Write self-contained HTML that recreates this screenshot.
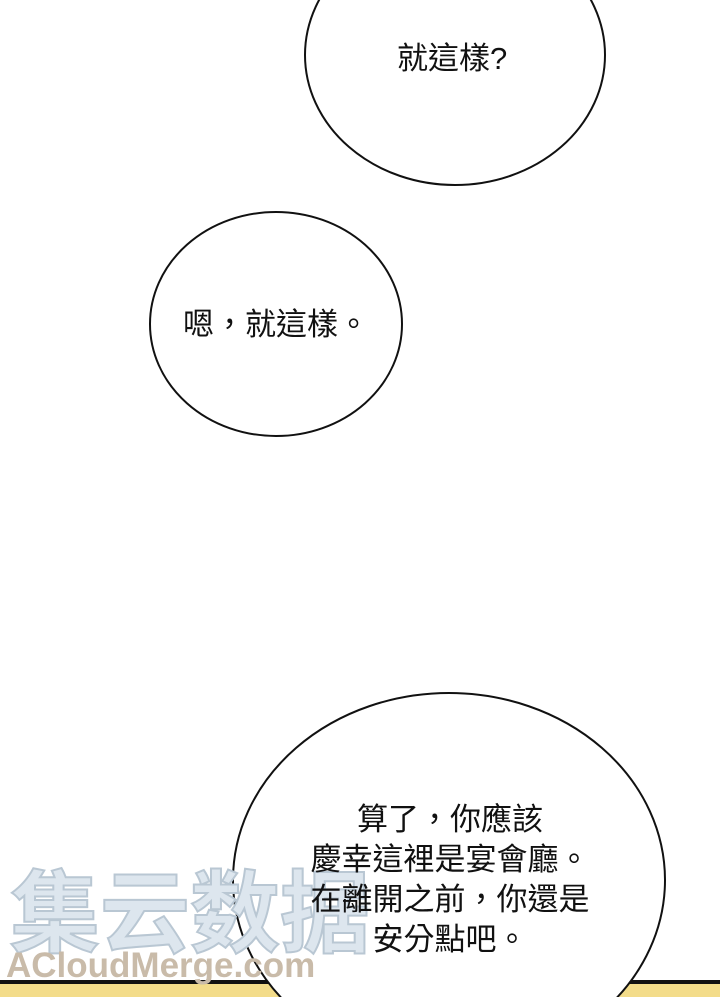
<!DOCTYPE html>
<html><head><meta charset="utf-8"><style>
html,body{margin:0;padding:0;background:#fff;}
body{width:720px;height:997px;position:relative;overflow:hidden;font-family:"Liberation Sans","Noto Sans CJK TC",sans-serif;}
.t{position:absolute;font-size:31px;color:#111;white-space:nowrap;line-height:40px;text-align:center;}
</style></head><body>
<svg width="720" height="997" style="position:absolute;left:0;top:0">
<rect x="0" y="982" width="720" height="15" fill="#f3dc8a"/>
<rect x="0" y="980" width="720" height="4" fill="#111"/>
<ellipse cx="455" cy="55" rx="150" ry="130" fill="#fff" stroke="#111" stroke-width="2"/>
<ellipse cx="276" cy="324" rx="126" ry="112" fill="#fff" stroke="#111" stroke-width="2"/>
<ellipse cx="449" cy="880" rx="216" ry="187" fill="#fff" stroke="#111" stroke-width="2"/>
<text x="10" y="945" font-size="90" font-weight="bold" fill="#dde6ee" stroke="#b9c7d3" stroke-width="2" font-family="Noto Sans CJK SC,sans-serif">集云数据</text>
<text x="6" y="977" font-size="35" font-weight="bold" fill="#c9bba9" font-family="Liberation Sans,sans-serif">ACloudMerge.com</text>
</svg>
<div class="t" style="left:397px;top:39px;">就這樣?</div>
<div class="t" style="left:276px;top:305px;width:0;display:flex;justify-content:center;">嗯，就這樣。</div>
<div class="t" style="left:300px;top:800px;width:300px;">算了，你應該<br>慶幸這裡是宴會廳。<br>在離開之前，你還是<br>安分點吧。</div>
</body></html>
